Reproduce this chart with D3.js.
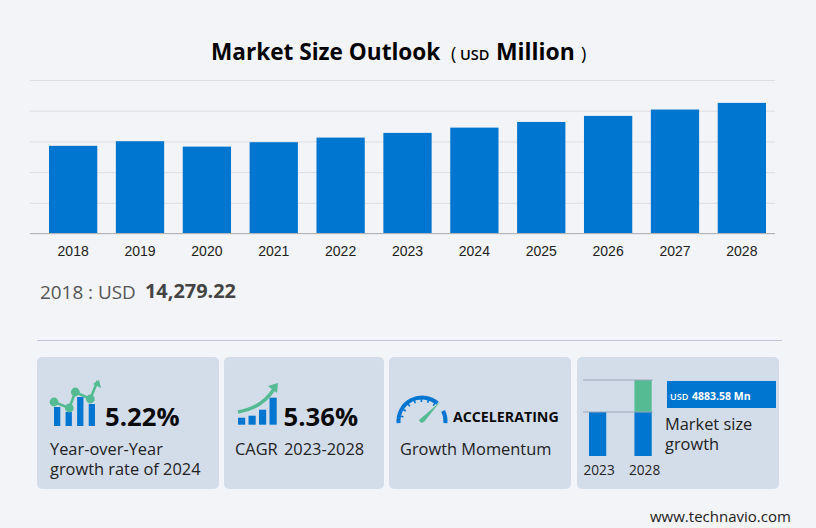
<!DOCTYPE html>
<html>
<head>
<meta charset="utf-8">
<script src="https://cdn.jsdelivr.net/npm/d3@7/dist/d3.min.js"></script>
<style>
html, body { margin: 0; padding: 0; background: #f3f4f7; }
svg { display: block; }
text { font-family: "Open Sans", sans-serif; }
</style>
</head>
<body>
<div id="chart"></div>
<script>
var years = ['2018','2019','2020','2021','2022','2023','2024','2025','2026','2027','2028'];
var market_size = [14279.22,15030,14150,14870,15620,16390,17246,18170,19150,20190,21274];
var y_ticks = [0,5000,10000,15000,20000,25000];
var mini_years = ['2023','2028'];
var mini_base = [16390,16390];
var mini_growth = [0,4883.58];
var yoy_bars = [19,14,29,22];
var yoy_line = [24,18,34,27,45];
var cagr_bars = [7,9,15,27];

var BLUE = '#0076d1', GREEN = '#55bb92', CARD = '#d3ddea', INK = '#222';

var svg = d3.select('#chart').append('svg').attr('width', 816).attr('height', 528);

function text(x, y, str, size, opts){
  opts = opts || {};
  return svg.append('text').attr('x', x).attr('y', y).text(str)
  .style('font-size', size + 'px')
  .style('font-weight', opts.weight || 400)
  .style('font-family', opts.family || null)
  .attr('text-anchor', opts.anchor || 'start')
  .attr('fill', opts.fill || INK);
}

// title
text(211, 60, 'Market Size Outlook', 22.6, {weight: 700, fill: '#000'});
text(451, 60, '(', 18, {fill: '#000'});
text(460, 60, 'USD', 14.5, {weight: 600, fill: '#000'});
text(496, 60, 'Million', 22.9, {weight: 700, fill: '#000'});
text(581, 60, ')', 18, {fill: '#000'});

// main chart
var x = d3.scaleBand().domain(years).range([49, 766]).paddingInner(0.278).paddingOuter(0);
var y = d3.scaleLinear().domain([0, 25000]).range([233.5, 80]);

var grid = svg.append('g').attr('transform', 'translate(30,0)')
.call(d3.axisLeft(y).tickValues(y_ticks).tickSize(-745).tickFormat(''));
grid.select('.domain').remove();
grid.selectAll('line').attr('stroke', '#dcdde2').attr('stroke-width', 1);

svg.selectAll('.bar').data(years).enter().append('rect').attr('class', 'bar')
.attr('x', function(d){return x(d);})
.attr('y', function(d, i){return y(market_size[i]);})
.attr('width', x.bandwidth())
.attr('height', function(d, i){return y(0) - y(market_size[i]);})
.attr('fill', BLUE);

svg.append('line').attr('x1', 30).attr('x2', 775).attr('y1', y(0)).attr('y2', y(0))
.attr('stroke', '#b2b3b8').attr('stroke-width', 1);

var x_axis = svg.append('g').attr('transform', 'translate(0,' + y(0) + ')')
.call(d3.axisBottom(x).tickSize(0).tickPadding(13));
x_axis.select('.domain').remove();
x_axis.selectAll('text').style('font-family', '"Liberation Sans", sans-serif')
.style('font-size', '14px').attr('fill', INK);

// first value
text(40, 299, '2018 : USD', 18.9, {fill: '#555'});
text(145, 298, '14,279.22', 19.9, {weight: 700, fill: '#444'});
svg.append('line').attr('x1', 37).attr('x2', 782).attr('y1', 340.5).attr('y2', 340.5)
.attr('stroke', '#c3c4da').attr('stroke-width', 1);

// cards
var cards = [[37,182],[224,160],[389,182],[577,202]];
svg.selectAll('.card').data(cards).enter().append('rect').attr('class', 'card')
.attr('x', function(d){return d[0];})
.attr('y', 357)
.attr('width', function(d){return d[1];})
.attr('height', 132)
.attr('rx', 5)
.attr('fill', CARD);

// card 1 icon
var yoy_x = d3.scaleLinear().domain([0, 3]).range([54, 88.7]);
var icon_y = d3.scaleLinear().domain([0, 45]).range([426, 381]);
svg.selectAll('.yoy-bar').data(yoy_bars).enter().append('rect').attr('class', 'yoy-bar')
.attr('x', function(d, i){return yoy_x(i);})
.attr('y', function(d){return icon_y(d);})
.attr('width', 6.3)
.attr('height', function(d){return icon_y(0) - icon_y(d);})
.attr('fill', BLUE);
var yoy_line_x = [54,69.3,75.3,90.3,97.5];
var yoy_path = d3.line().x(function(d, i){return yoy_line_x[i];}).y(function(d){return icon_y(d);});
svg.append('path').attr('d', yoy_path(yoy_line)).attr('fill', 'none').attr('stroke', GREEN).attr('stroke-width', 2.6);
svg.selectAll('.yoy-dot').data(yoy_line.slice(0, 4)).enter().append('circle').attr('class', 'yoy-dot')
.attr('cx', function(d, i){return yoy_line_x[i];})
.attr('cy', function(d){return icon_y(d);})
.attr('r', 4.4)
.attr('fill', GREEN);
svg.append('path').attr('d', 'M99,380 L93,384 L101,388 Z').attr('fill', GREEN);

text(105, 425.5, '5.22%', 25.7, {weight: 700, fill: '#0a0a0a'});
text(50, 455, 'Year-over-Year', 16.4, {});
text(50, 475, 'growth rate of 2024', 16.4, {});

// card 2 icon
var cagr_x = d3.scaleLinear().domain([0, 3]).range([238, 269.5]);
var cagr_y = d3.scaleLinear().domain([0, 27]).range([424.7, 397.7]);
svg.selectAll('.cagr-bar').data(cagr_bars).enter().append('rect').attr('class', 'cagr-bar')
.attr('x', function(d, i){return cagr_x(i);})
.attr('y', function(d){return cagr_y(d);})
.attr('width', 7.2)
.attr('height', function(d){return cagr_y(0) - cagr_y(d);})
.attr('fill', BLUE);
svg.append('path').attr('d', 'M238,412 Q262,408 274,389').attr('fill', 'none').attr('stroke', GREEN).attr('stroke-width', 3.4);
svg.append('path').attr('d', 'M278,383 L268,386 L277,393 Z').attr('fill', GREEN);

text(283.5, 425.5, '5.36%', 25.7, {weight: 700, fill: '#0a0a0a'});
text(235, 455, 'CAGR\u00a02023-2028', 16.4, {}).style('word-spacing', '2px');

// card 3 gauge
var gauge = svg.append('g').attr('transform', 'translate(422,421)');
var arc = d3.arc().innerRadius(21.5).outerRadius(25.5);
[[-1.66, 0.72], [1.12, 1.66]].forEach(function(a){
  gauge.append('path').attr('d', arc({startAngle: a[0], endAngle: a[1]})).attr('fill', BLUE);
});
d3.range(-1.35, 0.7, 0.33).forEach(function(a){
  gauge.append('line')
  .attr('x1', 19 * Math.sin(a)).attr('y1', -19 * Math.cos(a))
  .attr('x2', 22 * Math.sin(a)).attr('y2', -22 * Math.cos(a))
  .attr('stroke', BLUE).attr('stroke-width', 1.6);
});
gauge.append('path').attr('d', 'M-3,-1 L18,-19 L2,1 Q-2,3 -3,-1 Z').attr('fill', GREEN);

text(453, 422, 'ACCELERATING', 14.2, {weight: 700, fill: '#0a0a0a'});
text(400, 455, 'Growth Momentum', 16.4, {});

// card 4 mini chart
var mini_x = d3.scaleBand().domain(mini_years).range([589, 651.7]).paddingInner(0.62).paddingOuter(0);
var mini_y = d3.scaleLinear().domain([9675, 21274]).range([456, 380]);
svg.selectAll('.mini-base').data(mini_years).enter().append('rect').attr('class', 'mini-base')
.attr('x', function(d){return mini_x(d);})
.attr('y', function(d, i){return mini_y(mini_base[i]);})
.attr('width', mini_x.bandwidth())
.attr('height', function(d, i){return mini_y(9675) - mini_y(mini_base[i]);})
.attr('fill', BLUE);
svg.selectAll('.mini-growth').data(mini_years).enter().append('rect').attr('class', 'mini-growth')
.attr('x', function(d){return mini_x(d);})
.attr('y', function(d, i){return mini_y(mini_base[i] + mini_growth[i]);})
.attr('width', mini_x.bandwidth())
.attr('height', function(d, i){return mini_y(mini_base[i]) - mini_y(mini_base[i] + mini_growth[i]);})
.attr('fill', GREEN);
[21274, 16390].forEach(function(v){
  svg.append('line').attr('x1', 583).attr('x2', 653).attr('y1', mini_y(v)).attr('y2', mini_y(v))
  .attr('stroke', '#9aa7b8').attr('stroke-width', 1);
});
mini_years.forEach(function(d){
  text(mini_x(d) + mini_x.bandwidth() / 2 + 1.5, 475, d, 13.7, {anchor: 'middle'});
});

svg.append('rect').attr('x', 667).attr('y', 381).attr('width', 109).attr('height', 27).attr('fill', BLUE);
text(670, 400, 'USD', 9, {weight: 600, fill: '#fff'});
text(692, 400, '4883.58 Mn', 10.5, {weight: 700, fill: '#fff'});
text(665, 430, 'Market size', 16.4, {});
text(665, 450, 'growth', 16.4, {});

text(650, 522, 'www.technavio.com', 15, {});
</script>
</body>
</html>
